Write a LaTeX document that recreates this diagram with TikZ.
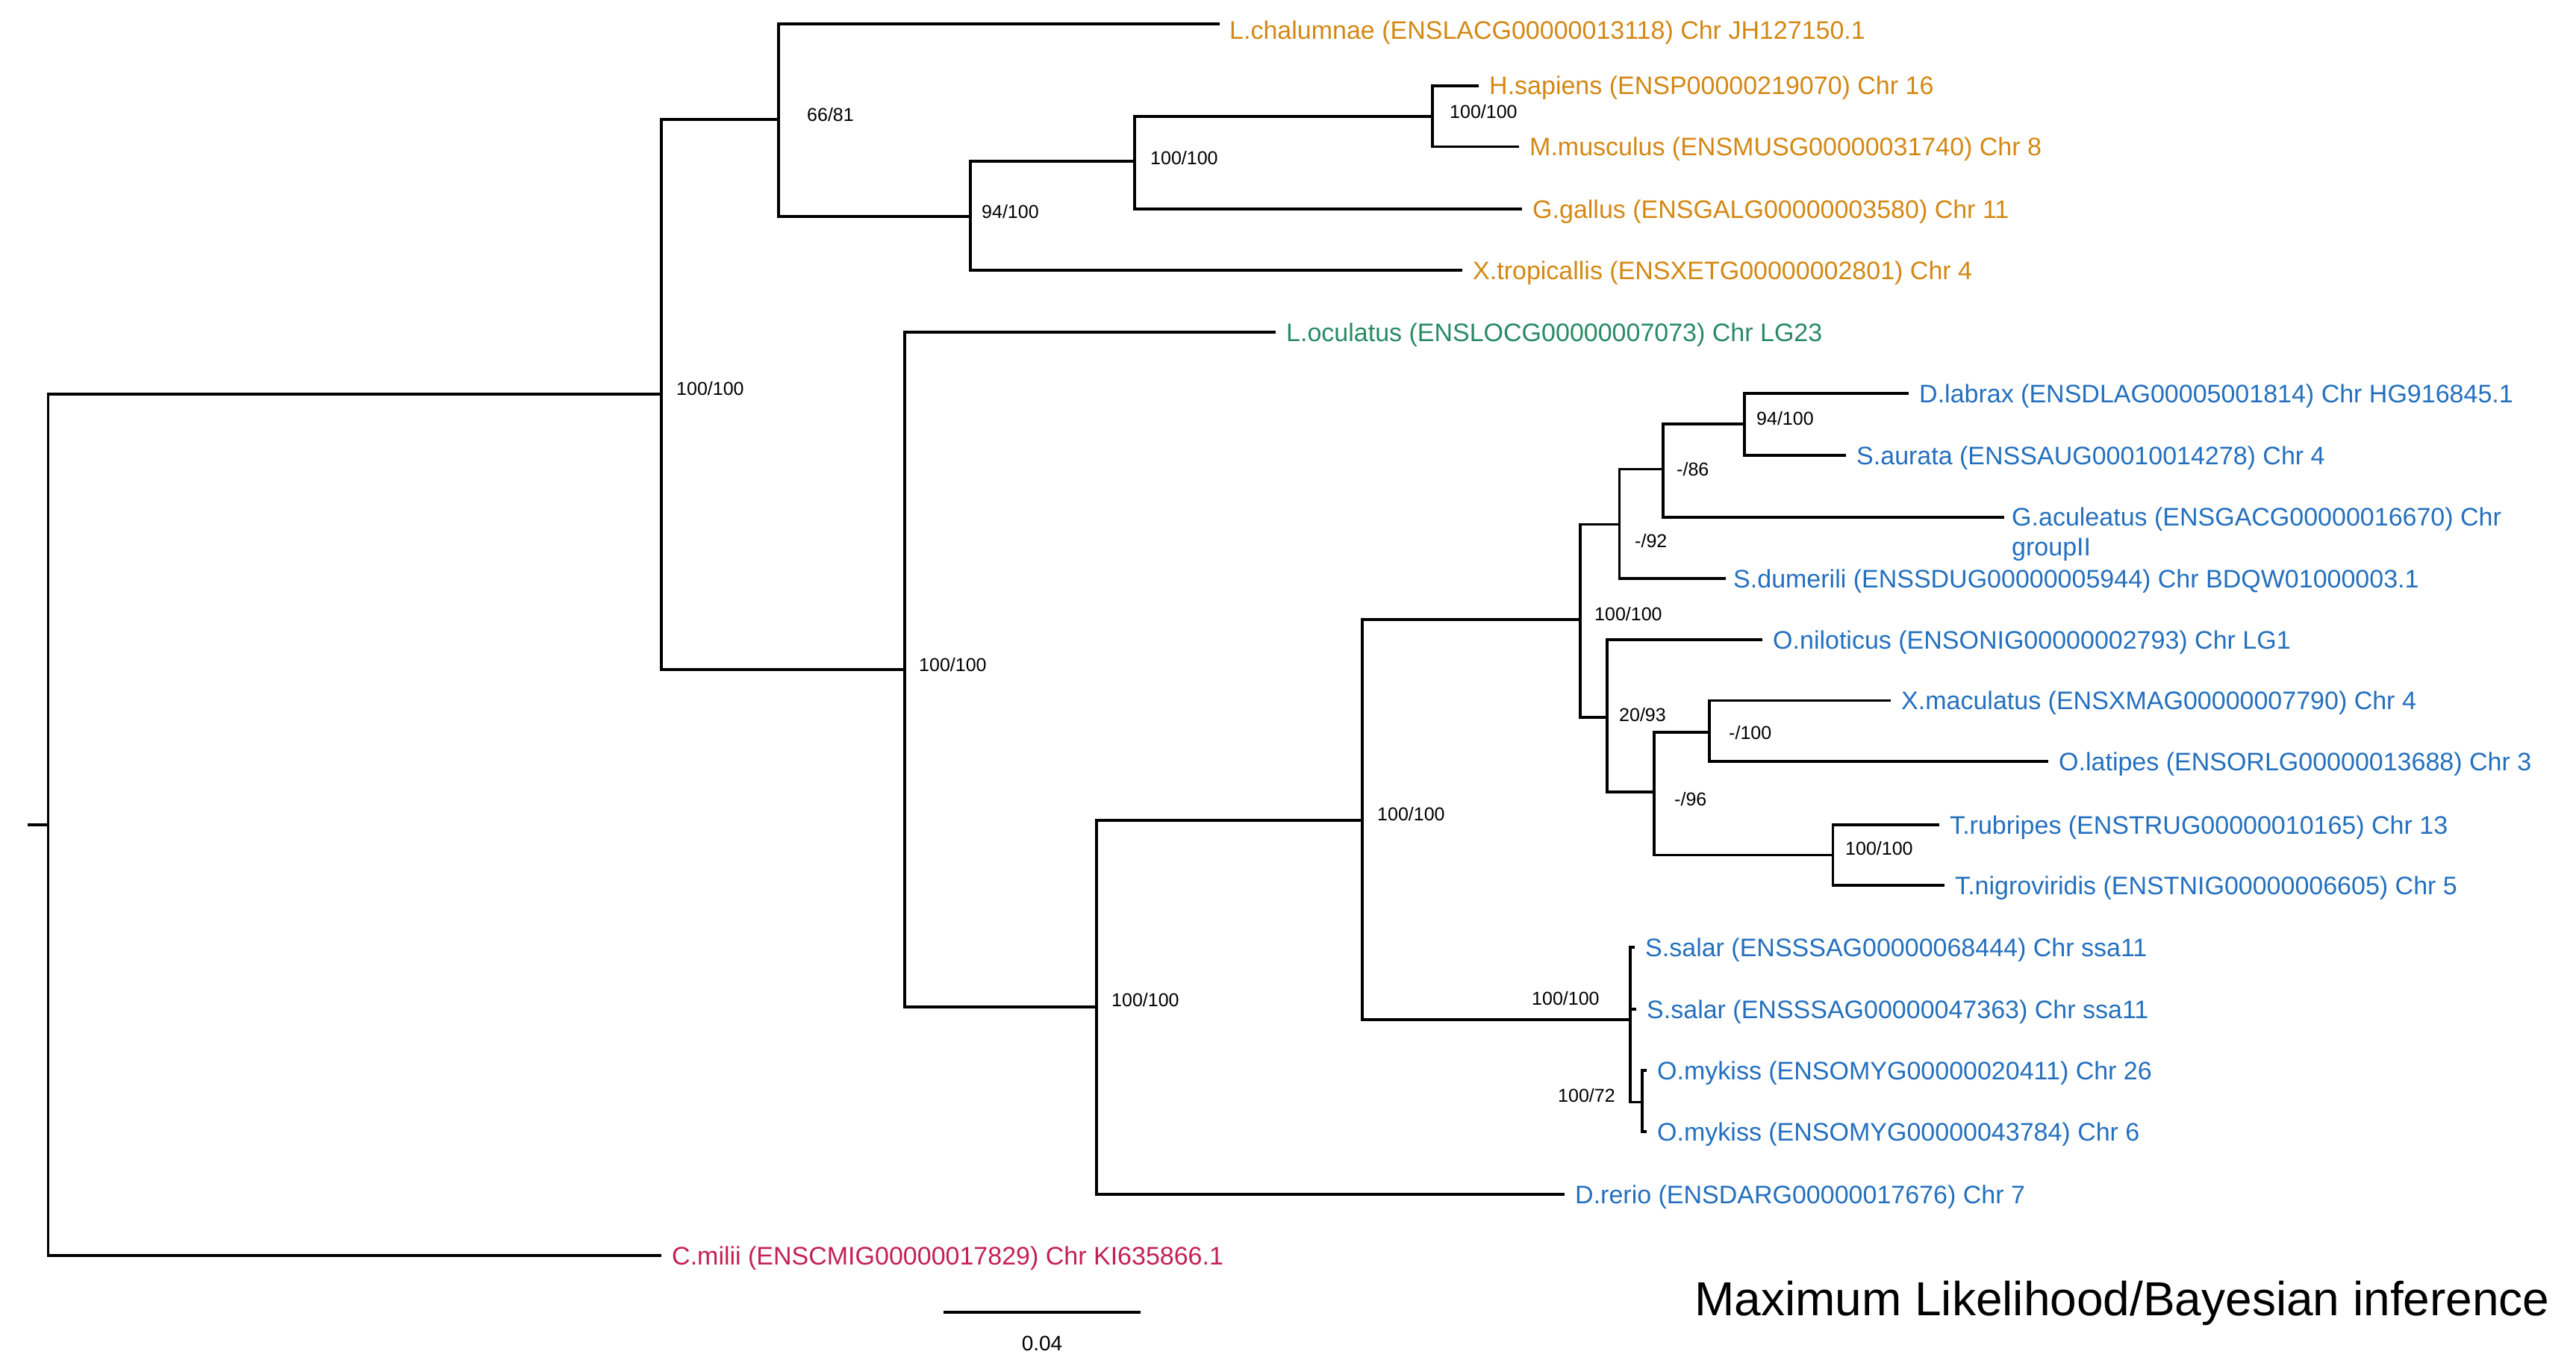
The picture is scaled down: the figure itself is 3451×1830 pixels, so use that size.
\documentclass[tikz,border=0pt]{standalone}
\usepackage{fontspec}
\setmainfont{Liberation Sans}
\definecolor{tetra}{RGB}{212,136,20}
\definecolor{gar}{RGB}{40,138,102}
\definecolor{teleo}{RGB}{36,112,190}
\definecolor{shark}{RGB}{196,32,86}
\newcommand\leaffont{\fontsize{34}{40}\selectfont}
\newcommand\bsfont{\fontsize{25}{30}\selectfont}
\begin{document}
\begin{tikzpicture}[x=1pt,y=-1pt,
  br/.style={line width=3.8pt},
  leaf/.style={anchor=west, inner sep=0pt, text height=24pt, text depth=0pt, font=\leaffont},
  bs/.style={anchor=west, inner sep=0pt, text height=18pt, text depth=0pt, font=\bsfont, text=black}]
\useasboundingbox (0,0) rectangle (3451,1830);
\fill[white] (0,0) rectangle (3451,1830);

% internal nodes
\coordinate (stub) at (37,1105);
\coordinate (R) at (64.5,1105);
\coordinate (A) at (886,528);
\coordinate (B) at (1043,160);
\coordinate (C) at (1300,290);
\coordinate (D) at (1520,216);
\coordinate (H) at (1918.6,156);
\coordinate (E) at (1212,897);
\coordinate (F) at (1469,1349);
\coordinate (G) at (1825,1099);
\coordinate (I) at (2116.6,830);
\coordinate (J) at (2169.4,702.5);
\coordinate (L) at (2228,628.5);
\coordinate (M) at (2336.7,568);
\coordinate (K) at (2153.3,960.7);
\coordinate (N) at (2215.6,1061);
\coordinate (P) at (2290,981);
\coordinate (Q) at (2455.5,1145.5);
\coordinate (S) at (2184,1366);
\coordinate (T) at (2200,1476.5);

% leaves
\node[leaf,text=tetra] (lcha) at (1647,41) {L.chalumnae (ENSLACG00000013118) Chr JH127150.1};
\node[leaf,text=tetra] (hsap) at (1995,114.7) {H.sapiens (ENSP00000219070) Chr 16};
\node[leaf,text=tetra] (mmus) at (2049,196.5) {M.musculus (ENSMUSG00000031740) Chr 8};
\node[leaf,text=tetra] (ggal) at (2053,280) {G.gallus (ENSGALG00000003580) Chr 11};
\node[leaf,text=tetra] (xtro) at (1973,362) {X.tropicallis (ENSXETG00000002801) Chr 4};
\node[leaf,text=gar] (locu) at (1723,445) {L.oculatus (ENSLOCG00000007073) Chr LG23};
\node[leaf,text=teleo] (dlab) at (2571,527) {D.labrax (ENSDLAG00005001814) Chr HG916845.1};
\node[leaf,text=teleo] (saur) at (2487,610) {S.aurata (ENSSAUG00010014278) Chr 4};
\node[leaf,text=teleo] (gacu) at (2695,692.6) {G.aculeatus (ENSGACG00000016670) Chr};
\node[leaf,text=teleo] (gacub) at (2695,732) {groupII};
\node[leaf,text=teleo] (sdum) at (2322,775) {S.dumerili (ENSSDUG00000005944) Chr BDQW01000003.1};
\node[leaf,text=teleo] (onil) at (2375,857) {O.niloticus (ENSONIG00000002793) Chr LG1};
\node[leaf,text=teleo] (xmac) at (2547,938.5) {X.maculatus (ENSXMAG00000007790) Chr 4};
\node[leaf,text=teleo] (olat) at (2758,1020) {O.latipes (ENSORLG00000013688) Chr 3};
\node[leaf,text=teleo] (trub) at (2612,1105) {T.rubripes (ENSTRUG00000010165) Chr 13};
\node[leaf,text=teleo] (tnig) at (2619,1186) {T.nigroviridis (ENSTNIG00000006605) Chr 5};
\node[leaf,text=teleo] (ssal1) at (2204,1269) {S.salar (ENSSSAG00000068444) Chr ssa11};
\node[leaf,text=teleo] (ssal2) at (2206,1352) {S.salar (ENSSSAG00000047363) Chr ssa11};
\node[leaf,text=teleo] (omyk1) at (2220,1434) {O.mykiss (ENSOMYG00000020411) Chr 26};
\node[leaf,text=teleo] (omyk2) at (2220,1516) {O.mykiss (ENSOMYG00000043784) Chr 6};
\node[leaf,text=teleo] (drer) at (2110,1600) {D.rerio (ENSDARG00000017676) Chr 7};
\node[leaf,text=shark] (cmil) at (900,1682) {C.milii (ENSCMIG00000017829) Chr KI635866.1};

% branches
\draw[br] (stub) -- (R);
\draw[br] (R) |- (A);
\draw[br] (R) |- ([xshift=-14pt]cmil.west);
\draw[br] (A) |- (B);
\draw[br] (A) |- (E);
\draw[br] (B) |- ([xshift=-13pt,yshift=9pt]lcha.west);
\draw[br] (B) |- (C);
\draw[br] (C) |- (D);
\draw[br] (C) |- ([xshift=-14pt]xtro.west);
\draw[br] (D) |- (H);
\draw[br] (D) |- ([xshift=-14pt]ggal.west);
\draw[br] (H) |- ([xshift=-14pt]hsap.west);
\draw[br] (H) |- ([xshift=-14pt]mmus.west);
\draw[br] (E) |- ([xshift=-14pt]locu.west);
\draw[br] (E) |- (F);
\draw[br] (F) |- (G);
\draw[br] (F) |- ([xshift=-14pt]drer.west);
\draw[br] (G) |- (I);
\draw[br] (G) |- (S);
\draw[br] (I) |- (J);
\draw[br] (I) |- (K);
\draw[br] (J) |- (L);
\draw[br] (J) |- ([xshift=-10pt]sdum.west);
\draw[br] (L) |- (M);
\draw[br] (L) |- ([xshift=-10pt]gacu.west);
\draw[br] (M) |- ([xshift=-14pt]dlab.west);
\draw[br] (M) |- ([xshift=-14pt]saur.west);
\draw[br] (K) |- ([xshift=-14pt]onil.west);
\draw[br] (K) |- (N);
\draw[br] (N) |- (P);
\draw[br] (N) |- (Q);
\draw[br] (P) |- ([xshift=-14pt]xmac.west);
\draw[br] (P) |- ([xshift=-14pt]olat.west);
\draw[br] (Q) |- ([xshift=-14pt]trub.west);
\draw[br] (Q) |- ([xshift=-14pt]tnig.west);
\draw[br] (S) |- ([xshift=-14pt]ssal1.west);
\draw[br] (S) |- ([xshift=-14pt]ssal2.west);
\draw[br] (S) |- (T);
\draw[br] (T) |- ([xshift=-14pt]omyk1.west);
\draw[br] (T) |- ([xshift=-14pt]omyk2.west);

% support values
\node[bs] (bA) at (906,520) {100/100};
\node[bs] (bB) at (1081,154) {66/81};
\node[bs] (bC) at (1315,283) {94/100};
\node[bs] (bD) at (1541,211.5) {100/100};
\node[bs] (bH) at (1942,149.5) {100/100};
\node[bs] (bE) at (1231,890) {100/100};
\node[bs] (bF) at (1489,1339) {100/100};
\node[bs] (bG) at (1845,1090) {100/100};
\node[bs] (bI) at (2136,822) {100/100};
\node[bs] (bJ) at (2190,724) {-/92};
\node[bs] (bL) at (2246,628.5) {-/86};
\node[bs] (bM) at (2353,560) {94/100};
\node[bs] (bK) at (2169,957.5) {20/93};
\node[bs] (bN) at (2243,1070) {-/96};
\node[bs] (bP) at (2316,981) {-/100};
\node[bs] (bQ) at (2472,1136) {100/100};
\node[bs] (bS) at (2052,1337) {100/100};
\node[bs] (bT) at (2087,1467) {100/72};

% scale bar
\coordinate (sb1) at (1264,1758);
\coordinate (sb2) at (1528,1758);
\draw[br] (sb1) -- (sb2);
\node[inner sep=0pt, font=\fontsize{28}{32}\selectfont] (sbl) at (1396,1800) {0.04};

% title
\node[anchor=west, inner sep=0pt, text height=45pt, text depth=0pt, font=\fontsize{64}{72}\selectfont] (title) at (2270,1740) {Maximum Likelihood/Bayesian inference};
\end{tikzpicture}
\end{document}
